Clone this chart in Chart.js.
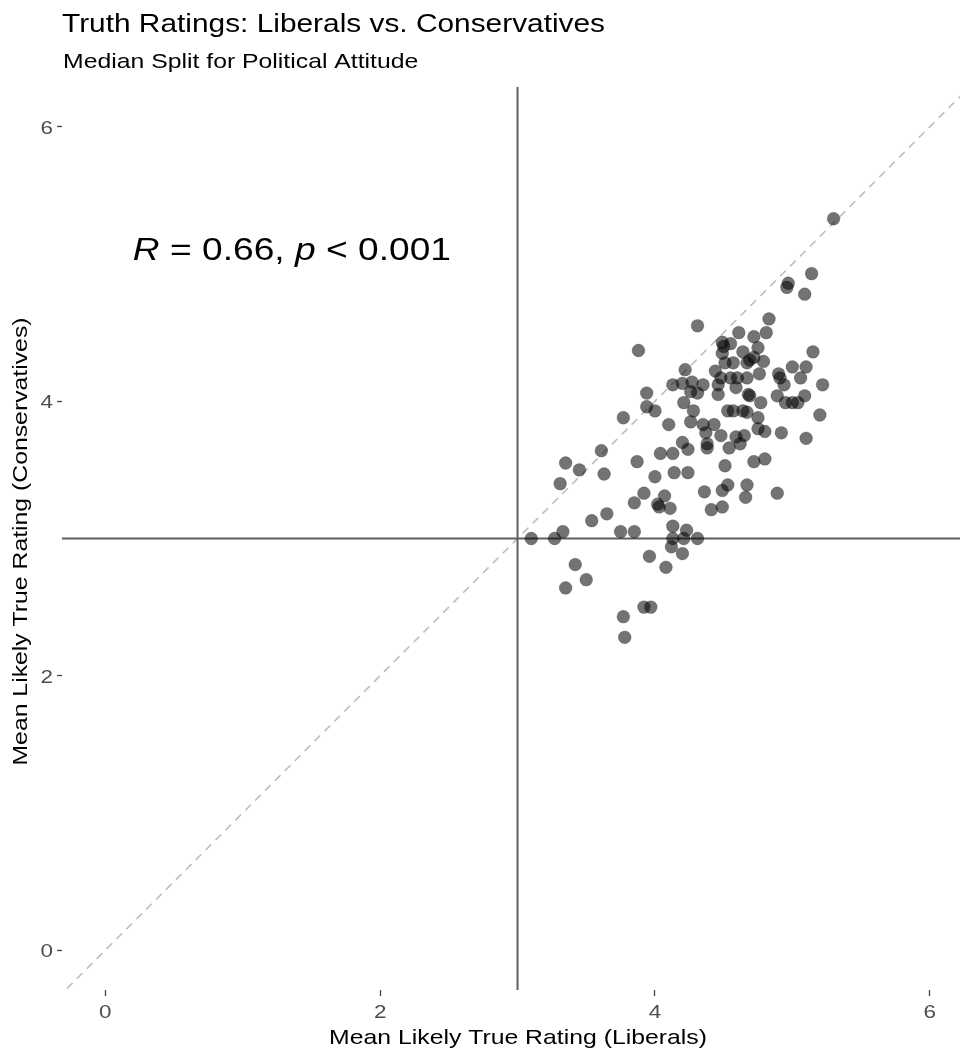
<!DOCTYPE html>
<html>
<head>
<meta charset="utf-8">
<script src="https://cdn.jsdelivr.net/npm/chart.js@4"></script>
<style>
html,body{margin:0;padding:0;background:#fff;}
#wrap{width:960px;height:1051px;position:relative;}
</style>
</head>
<body>
<div id="wrap"><canvas id="c" width="960" height="1051"></canvas></div>
<script>
// Mean Likely True Rating per item
const liberals = [5.30,5.14,4.97,4.96,5.09,4.83,4.31,4.61,4.81,4.72,3.88,4.49,4.50,4.55,4.75,5.15,4.49,4.64,4.72,4.69,
4.79,4.51,4.57,4.67,4.22,4.44,5.00,5.10,4.76,4.90,4.91,5.06,4.48,4.55,4.60,4.67,4.94,5.22,4.13,4.20,
4.27,4.35,4.46,4.59,4.26,4.31,3.94,4.46,4.68,4.69,4.89,5.09,4.21,4.77,4.95,5.00,5.04,3.94,4.00,4.28,
4.53,4.57,4.64,4.67,5.20,3.77,4.75,4.10,4.26,4.35,4.43,4.37,4.75,4.80,4.92,5.10,4.48,4.59,4.65,4.62,
4.54,4.20,4.24,4.38,4.38,4.04,4.13,3.61,3.87,3.35,3.45,3.63,3.31,4.00,4.14,4.24,4.51,4.72,4.80,4.36,
4.49,4.53,4.67,4.66,4.89,3.92,3.85,4.07,4.02,4.03,4.11,4.41,4.49,3.65,3.54,3.33,3.75,3.85,4.13,4.23,
3.10,3.27,4.13,4.21,4.31,4.12,4.20,3.96,4.08,3.42,3.50,3.35,3.92,3.97,3.77,3.78];
const conservatives = [5.33,4.93,4.86,4.83,4.78,4.60,4.55,4.50,4.50,4.47,4.37,4.43,4.40,4.42,4.39,4.36,4.35,4.36,4.32,4.30,
4.29,4.28,4.28,4.28,4.23,4.22,4.25,4.25,4.20,4.20,4.17,4.17,4.17,4.17,4.17,4.17,4.12,4.12,4.12,4.13,
4.14,4.12,4.12,4.10,4.07,4.06,4.06,4.05,4.05,4.04,4.04,4.04,3.99,3.99,3.99,3.99,3.99,3.96,3.93,3.93,
3.93,3.93,3.93,3.92,3.90,3.88,3.88,3.83,3.85,3.83,3.83,3.77,3.80,3.78,3.77,3.73,3.75,3.74,3.75,3.69,
3.66,3.70,3.65,3.69,3.66,3.62,3.62,3.64,3.56,3.55,3.50,3.47,3.40,3.45,3.48,3.48,3.53,3.56,3.58,3.34,
3.35,3.39,3.39,3.30,3.33,3.33,3.26,3.31,3.25,3.23,3.22,3.21,3.23,3.18,3.13,3.05,3.05,3.05,3.09,3.06,
3.00,3.00,3.00,3.00,3.00,2.94,2.89,2.87,2.79,2.81,2.70,2.64,2.50,2.50,2.43,2.28];
const xTicks = [0, 2, 4, 6];
const yTicks = [0, 2, 4, 6];
const medianLiberals = 3;
const medianConservatives = 3;
const identityRange = [-1, 7];
const titleText = 'Truth Ratings: Liberals vs. Conservatives';
const subtitleText = 'Median Split for Political Attitude';
const xTitle = 'Mean Likely True Rating (Liberals)';
const yTitle = 'Mean Likely True Rating (Conservatives)';
const statR = '0.66';
const statP = '0.001';

const FONT = '"Liberation Sans", Arial, Helvetica, sans-serif';
const WIDEN = 1.18; // reference glyphs are wider than Arial metrics

const points = liberals.map((x, i) => ({x: x, y: conservatives[i]}));

function drawWide(ctx, parts, x, y, size, align, color) {
  let total = 0;
  for (const p of parts) {
    ctx.font = (p.it ? 'italic ' : '') + size + 'px ' + FONT;
    total += ctx.measureText(p.t).width;
  }
  const w = total * WIDEN;
  let start = align === 'center' ? x - w / 2 : x;
  ctx.save();
  ctx.translate(start, y);
  ctx.scale(WIDEN, 1);
  ctx.fillStyle = color || '#000';
  ctx.textAlign = 'left';
  ctx.textBaseline = 'alphabetic';
  let px = 0;
  for (const p of parts) {
    ctx.font = (p.it ? 'italic ' : '') + size + 'px ' + FONT;
    ctx.fillText(p.t, px, 0);
    px += ctx.measureText(p.t).width;
  }
  ctx.restore();
}

const textPlugin = {
  id: 'texts',
  afterDraw(chart) {
    const ctx = chart.ctx;
    const xs = chart.scales.x, ys = chart.scales.y;
    const ca = chart.chartArea;
    drawWide(ctx, [{t: titleText}], 62, 32, 25.3, 'left', '#000');
    drawWide(ctx, [{t: subtitleText}], 63, 68, 21, 'left', '#000');
    drawWide(ctx, [{t: xTitle}], (ca.left + ca.right) / 2 + 7, 1044, 21, 'center', '#000');
    ctx.save();
    ctx.translate(27, (ca.top + ca.bottom) / 2 + 3);
    ctx.rotate(-Math.PI / 2);
    drawWide(ctx, [{t: yTitle}], 0, 0, 21, 'center', '#000');
    ctx.restore();
    drawWide(ctx, [
      {t: 'R', it: true}, {t: ' = ' + statR + ', '},
      {t: 'p', it: true}, {t: ' < ' + statP}
    ], xs.getPixelForValue(0.2), ys.getPixelForValue(5.03), 31.5, 'left', '#000');
    for (const v of xTicks) {
      drawWide(ctx, [{t: String(v)}], xs.getPixelForValue(v), 1018, 19, 'center', '#4d4d4d');
    }
    for (const v of yTicks) {
      ctx.font = '19px ' + FONT;
      const w = ctx.measureText(String(v)).width * WIDEN;
      drawWide(ctx, [{t: String(v)}], 53 - w, ys.getPixelForValue(v) + 7, 19, 'left', '#4d4d4d');
    }
  }
};

new Chart(document.getElementById('c'), {
  type: 'scatter',
  data: {
    datasets: [
      {
        data: points,
        backgroundColor: 'rgba(0,0,0,0.55)',
        borderColor: 'rgba(0,0,0,0.2)',
        borderWidth: 1,
        pointRadius: 6.4,
        order: 0
      },
      {
        data: identityRange.map(v => ({x: v, y: v})),
        showLine: true,
        borderColor: '#bdbdbd',
        borderWidth: 1.6,
        borderDash: [8, 6],
        pointRadius: 0,
        order: 3
      },
      {
        data: identityRange.map(v => ({x: medianLiberals, y: v})),
        showLine: true,
        borderColor: '#5e5e5e',
        borderWidth: 2,
        pointRadius: 0,
        order: 2
      },
      {
        data: identityRange.map(v => ({x: v, y: medianConservatives})),
        showLine: true,
        borderColor: '#5e5e5e',
        borderWidth: 2,
        pointRadius: 0,
        order: 2
      }
    ]
  },
  options: {
    responsive: false,
    animation: false,
    devicePixelRatio: 1,
    layout: {autoPadding: false, padding: {top: 87, right: 0, bottom: 0, left: 0}},
    plugins: {legend: {display: false}, tooltip: {enabled: false}, title: {display: false}},
    scales: {
      x: {
        type: 'linear',
        min: -0.315, max: 6.22,
        afterFit(s) { s.height = 61; s.paddingLeft = 0; s.paddingRight = 0; },
        afterBuildTicks(s) { s.ticks = xTicks.map(v => ({value: v})); },
        border: {display: false},
        grid: {drawOnChartArea: false, drawTicks: true, tickLength: 6, tickWidth: 1.3, color: '#444'},
        ticks: {display: false}
      },
      y: {
        type: 'linear',
        min: -0.29, max: 6.29,
        afterFit(s) { s.width = 62; s.paddingTop = 0; s.paddingBottom = 0; },
        afterBuildTicks(s) { s.ticks = yTicks.map(v => ({value: v})); },
        border: {display: false},
        grid: {drawOnChartArea: false, drawTicks: true, tickLength: 5, tickWidth: 1.3, color: '#444'},
        ticks: {display: false}
      }
    }
  },
  plugins: [textPlugin]
});
</script>
</body>
</html>
